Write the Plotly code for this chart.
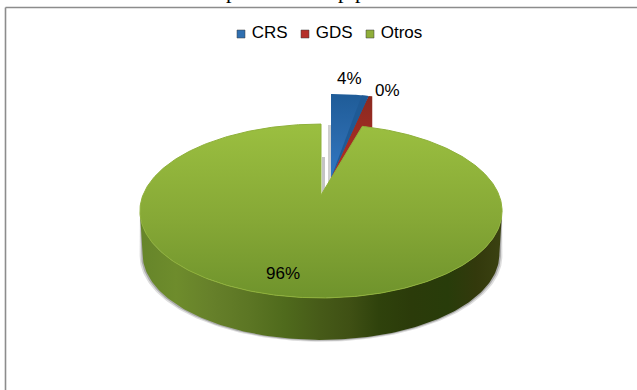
import numpy as np
import plotly.graph_objects as go

categories = ["CRS", "GDS", "Otros"]
values = [4.0, 0.4, 95.6]
legend_colors = ["#2f6fb0", "#b5302a", "#8fae3a"]

W, H = 637, 390
APEX = (321.0, 195.0)      # projected pie centre
SX, SY, K = 178.0, 84.0, 0.184  # perspective projection of the pie disc
DEPTH_SCALE, DEPTH_SHIFT = 0.985, 43.5
EXPLODE = (10.0, -30.0)

total = sum(values)
edges = np.cumsum([0.0] + values) / total * 360.0


def project(theta_deg, origin=APEX):
    t = np.radians(np.asarray(theta_deg, dtype=float))
    X, Y = np.sin(t), np.cos(t)
    w = 1 + K * Y
    return origin[0] + SX * X / w, origin[1] - SY * Y / w


def lower(x, y):
    return (APEX[0] + (np.asarray(x) - APEX[0]) * DEPTH_SCALE,
            APEX[1] + (np.asarray(y) - APEX[1]) * DEPTH_SCALE + DEPTH_SHIFT)


def poly(x, y, **kw):
    x, y = list(x), list(y)
    return go.Scatter(x=x + x[:1], y=y + y[:1], mode="lines", fill="toself",
                      hoverinfo="skip", showlegend=False, **kw)


fig = go.Figure()

# Outer soft shadow and side wall of "Otros"
front = np.linspace(100.6, 259.4, 160)
tx, ty = project(front)
bx, by = lower(tx, ty)
for grow, col in ((3.0, "rgba(120,120,120,0.25)"), (1.5, "rgba(110,110,110,0.45)")):
    sx = APEX[0] + (bx - APEX[0]) * (1 + grow / 178)
    fig.add_trace(poly(np.r_[tx, sx[::-1]], np.r_[ty, (by + grow * 0.6)[::-1]],
                       line=dict(width=0), fillcolor=col))
fig.add_trace(poly(
    np.r_[tx, bx[::-1]], np.r_[ty, by[::-1]], line=dict(width=0),
    fillgradient=dict(type="horizontal", colorscale=[
        [0.00, "#66852a"], [0.10, "#6e8c2c"], [0.20, "#66802a"], [0.30, "#5c7624"],
        [0.40, "#4f6a1c"], [0.50, "#465a18"], [0.58, "#3f5014"], [0.66, "#2f420c"],
        [0.75, "#2b3b0a"], [0.85, "#283c0a"], [0.93, "#33390c"], [1.00, "#3b4212"]])))

# Gray shading visible through the gap between the slices
ex, ey = EXPLODE
gap_a = ([APEX[0] + 1, APEX[0] + 4, APEX[0] + 4, APEX[0] + 1],
         [APEX[1] - 38, APEX[1] - 38, APEX[1] - 6, APEX[1]])
gap_b = ([APEX[0] + ex - 3, APEX[0] + ex, APEX[0] + ex, APEX[0] + ex - 3],
         [APEX[1] - 70, APEX[1] - 70, APEX[1] - 12, APEX[1] - 12])
fig.add_trace(poly(*gap_a, line=dict(width=0), fillcolor="#c4c4c4"))
fig.add_trace(poly(*gap_b, line=dict(width=0), fillcolor="#cfcfcf"))

origin = (APEX[0] + ex, APEX[1] + ey)
tip = (origin[0], origin[1] + 13)  # lowest point where the exploded slices meet "Otros"

# GDS: its cut face is what shows
p0 = project([edges[1]], origin)
p1 = project([edges[2]], origin)
fig.add_trace(poly([p0[0][0], p1[0][0], p1[0][0], origin[0], origin[0]],
                   [p0[1][0], p1[1][0], p1[1][0] + 43, origin[1] + 43, origin[1]],
                   line=dict(width=0),
                   fillgradient=dict(type="vertical", colorscale=[
                       [0, "#b22f26"], [0.5, "#a82c24"], [1, "#8a2a20"]])))

# CRS: top face and darker inner band
arc = np.linspace(edges[0], edges[1], 30)
ax, ay = project(arc, origin)
fig.add_trace(poly(np.r_[tip[0], ax], np.r_[tip[1], ay], line=dict(width=0),
                   fillgradient=dict(type="vertical", colorscale=[
                       [0, "#2f78c4"], [0.5, "#2a69ab"], [1, "#1f5c98"]])))
band = np.linspace(edges[0] + 0.82 * (edges[1] - edges[0]), edges[1], 6)
bandx, bandy = project(band, origin)
fig.add_trace(poly(np.r_[tip[0], bandx], np.r_[tip[1], bandy], line=dict(width=0),
                   fillcolor="#1f5a95"))

# Otros: top face
arc = np.linspace(edges[2], edges[3], 400)
ox_, oy_ = project(arc)
fig.add_trace(poly(np.r_[APEX[0], ox_], np.r_[APEX[1], oy_],
                   line=dict(width=1, color="#8fb13a"),
                   fillgradient=dict(type="vertical", colorscale=[
                       [0, "#6f932c"], [0.45, "#86a836"], [1, "#9bbf40"]])))

# Legend row
leg_x = [241, 305, 370]
for name, col, lx in zip(categories, legend_colors, leg_x):
    fig.add_trace(go.Scatter(
        x=[lx], y=[34], mode="markers+text", name=name, text=["\u00a0" + name],
        textposition="middle right",
        textfont=dict(family="Liberation Sans", size=17, color="#000"),
        marker=dict(symbol="square", size=8, color=col,
                    line=dict(width=1, color="rgba(60,60,60,0.5)")),
        hoverinfo="name", showlegend=False))

# Percent labels from the values
pct = [f"{round(v / total * 100)}%" for v in values]
label_pos = [(349, 78), (387, 90), (283, 273)]
anns = [dict(x=p[0], y=p[1], text=t, showarrow=False,
             font=dict(family="Liberation Sans", size=17, color="#000"))
        for p, t in zip(label_pos, pct)]

# Cropped title line above the chart: only the descenders remain in view
for tx_ in (231, 343, 360):
    anns.append(dict(x=tx_ / W, y=1 + 10 / H, xref="paper", yref="paper", text="p",
                     showarrow=False, yanchor="middle", xanchor="center",
                     font=dict(family="Liberation Serif", size=22, color="#000")))

fig.update_layout(
    width=W, height=H, margin=dict(l=0, r=0, t=0, b=0, autoexpand=False),
    paper_bgcolor="white", plot_bgcolor="white", showlegend=False,
    xaxis=dict(range=[0, W], visible=False, fixedrange=True),
    yaxis=dict(range=[H, 0], visible=False, fixedrange=True),
    annotations=anns,
    shapes=[
        dict(type="line", x0=5.5, x1=W, y0=7.5, y1=7.5, line=dict(color="#8c8c8c", width=1.6)),
        dict(type="line", x0=5.5, x1=5.5, y0=7.5, y1=H, line=dict(color="#8c8c8c", width=1.6)),
    ],
)
fig.write_html("out.html", config=dict(displayModeBar=False),
               post_script="document.body.style.margin='0';document.body.style.overflow='hidden';")
